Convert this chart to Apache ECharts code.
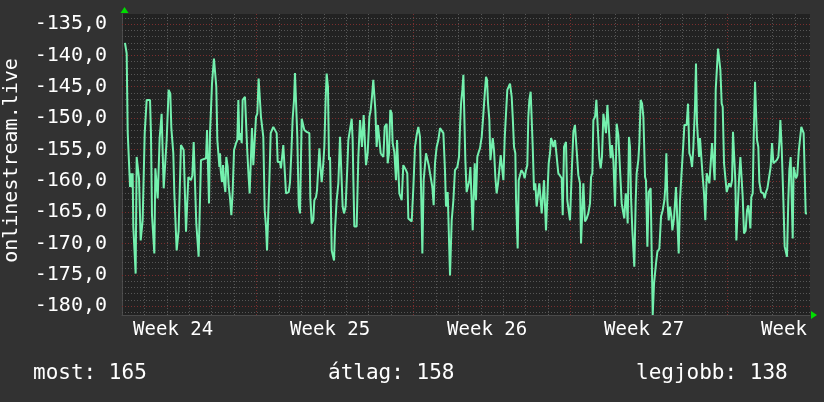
<!DOCTYPE html>
<html><head><meta charset="utf-8">
<script src="https://cdn.jsdelivr.net/npm/echarts@6/dist/echarts.min.js"></script>
<style>html,body{margin:0;padding:0;background:#323232}#c{width:824px;height:402px}</style>
</head><body><div id="c"></div>
<script>
// time in hours from left edge of the plot, values in the chart's unit
const hours = [3.2,5.0,6.1,7.8,8.6,9.3,10.3,11.4,12.1,13.6,14.6,15.7,16.8,18.2,19.3,20.0,21.4,22.1,23.2,24.3,25.3,26.4,30.0,31.0,32.1,33.5,34.6,35.7,37.1,38.2,39.2,40.3,41.4,42.4,43.5,44.6,46.7,47.8,48.9,49.9,51.7,52.8,53.9,54.9,56.0,57.4,58.5,59.9,60.6,62.1,63.1,64.6,66.0,67.4,68.5,69.9,71.0,72.8,73.8,75.3,76.7,78.1,79.5,80.6,82.0,83.5,84.5,89.9,91.0,92.4,93.1,94.2,95.2,96.3,98.4,99.9,100.9,102.0,103.1,104.2,104.9,105.6,107.0,108.1,109.2,110.6,111.6,113.1,114.1,115.6,117.0,118.4,119.9,120.9,122.0,123.4,124.5,125.6,127.0,128.1,129.1,130.6,131.6,133.4,134.1,135.5,136.6,138.0,139.1,140.5,142.3,143.4,144.8,146.2,147.7,148.7,150.2,151.2,152.7,154.1,155.2,156.6,157.7,159.1,160.5,161.9,163.7,165.5,166.6,169.1,170.1,171.6,172.6,174.4,175.5,176.9,178.4,179.8,181.2,182.6,184.1,185.1,186.6,187.6,189.1,190.5,191.5,192.3,194.0,195.1,197.6,199.4,200.5,201.5,203.0,204.7,205.8,207.6,208.7,210.1,211.2,212.6,213.7,214.7,215.4,216.5,217.9,219.0,220.4,221.5,222.6,224.4,226.9,227.9,229.7,231.5,233.3,235.1,236.1,237.6,239.3,241.1,242.2,244.0,245.8,246.8,247.6,248.6,251.1,252.9,254.7,255.8,256.8,257.5,258.6,260.0,261.1,262.9,264.7,266.1,267.5,268.9,270.0,271.1,272.5,273.9,275.4,276.8,279.7,281.1,283.2,284.3,285.7,287.1,288.6,289.6,291.4,293.2,294.3,295.7,296.8,299.3,301.0,302.8,303.9,305.3,306.4,310.0,311.8,313.5,315.3,317.1,318.9,320.0,321.4,322.8,324.2,325.3,326.7,328.2,329.6,330.7,332.1,333.5,334.9,336.7,338.5,340.3,342.1,343.9,345.6,346.7,348.5,349.6,351.0,352.8,354.6,356.3,358.8,360.6,361.7,362.8,364.2,365.3,366.3,367.4,368.8,370.3,371.7,372.8,374.2,375.3,376.3,377.4,378.8,380.2,381.7,383.1,384.9,386.7,387.7,389.5,390.6,391.7,393.1,394.2,395.6,396.7,398.1,399.5,400.9,402.4,403.8,405.2,406.6,408.1,409.5,410.9,412.3,413.8,415.2,417.0,418.1,419.5,420.9,421.6,423.4,424.5,425.9,427.3,429.5,430.9,432.3,433.7,434.8,435.9,437.3,438.4,439.5,440.9,442.3,443.7,445.5,446.6,448.0,449.1,450.2,451.6,452.6,453.7,455.2,456.6,458.0,459.1,460.5,461.6,463.4,465.1,466.9,468.7,470.5,471.6,473.0,475.1,476.5,478.0,479.4,481.2,483.0,484.7,486.5,488.3,490.1,491.2,492.6,493.7,494.4,495.4,497.2,499.0,500.8,501.9,503.3,504.4,506.2,507.6,509.7,510.8,512.2,513.6,515.1,516.5,517.9,519.4,521.5,522.9,524.3,525.8,527.6,529.3,531.1,532.9,534.7,536.5,537.5,539.0,540.0,541.1,542.5,543.6,544.7,546.1,548.2,549.7,550.7,552.5,553.6,555.0,556.5,557.9,559.7,560.7,562.2,563.6,565.7,566.8,567.9,569.3,571.4,572.9,575.0,576.8,578.6,580.4,581.4,582.5,583.6,585.0,586.4,587.9,588.9,590.7,592.8,594.6,595.7,597.1,598.2,599.6,600.7,601.8,604.2,605.7,607.1,608.5,610.0,611.4,613.2,614.2,615.3,616.4,617.5,618.5,620.0,621.4,622.8,624.2,625.7,627.1,628.5,630.3,631.4,632.8,634.2,635.3,636.7,637.8,639.2,640.3,641.7,642.8,644.2,645.6,647.1,648.5,649.6,651.3,652.8,653.8,654.9,656.3,657.4,659.2,660.2,661.7,663.1,664.2,665.6,667.4,668.8,670.2,671.3,672.4,673.4,674.9,675.9,677.4,678.4,679.5,680.9,682.0,683.8,685.2,686.3,687.7,689.1,690.6,692.7,694.1,695.6,697.0,698.8,700.6,702.3,703.4,704.5,705.9,707.7,709.1,710.5,711.6,713.0,714.1,715.5,716.6,717.7,718.7,720.2,721.2,722.6,724.1,725.5,726.9,728.0,729.4,730.5,731.6,733.0];
const values = [-138.0,-139.7,-152.2,-152.2,-161.0,-158.8,-161.0,-158.8,-167.3,-167.3,-174.8,-156.2,-156.2,-159.6,-159.6,-169.5,-169.5,-166.3,-166.3,-152.4,-152.4,-147.1,-147.1,-152.4,-165.5,-165.5,-171.6,-158.0,-158.3,-162.8,-162.8,-153.2,-153.2,-149.3,-149.3,-161.2,-161.2,-153.5,-153.5,-145.5,-146.1,-151.6,-151.6,-155.6,-162.0,-162.0,-171.1,-171.1,-167.9,-167.9,-154.3,-154.0,-155.1,-155.1,-168.1,-168.1,-159.4,-159.4,-159.9,-159.1,-153.8,-153.8,-166.8,-166.8,-172.1,-172.1,-156.7,-156.4,-151.9,-151.9,-163.6,-152.2,-148.7,-144.5,-140.5,-140.5,-145.0,-153.5,-155.6,-157.8,-155.6,-158.3,-160.2,-157.5,-160.2,-161.8,-156.2,-157.8,-160.7,-162.8,-165.5,-161.8,-155.1,-155.1,-154.0,-153.5,-147.1,-153.5,-152.4,-154.0,-147.1,-146.9,-146.6,-146.3,-155.4,-159.4,-162.0,-162.0,-151.6,-157.5,-157.5,-149.8,-149.3,-143.7,-143.7,-149.8,-149.8,-153.0,-164.7,-167.3,-171.1,-171.1,-159.9,-152.4,-152.4,-151.4,-151.4,-152.4,-157.0,-157.0,-158.0,-158.0,-154.3,-154.0,-162.0,-162.0,-161.8,-160.2,-155.6,-150.1,-147.1,-142.8,-142.8,-153.0,-163.9,-165.2,-165.2,-150.1,-150.1,-151.9,-152.2,-152.2,-152.4,-162.6,-166.8,-166.3,-163.1,-162.6,-161.5,-161.5,-154.8,-158.3,-160.2,-160.2,-157.2,-154.6,-147.1,-142.9,-145.0,-156.7,-156.2,-171.1,-172.7,-167.9,-163.1,-160.4,-153.0,-153.0,-164.1,-165.2,-164.1,-157.8,-153.5,-153.5,-150.1,-153.5,-159.9,-167.3,-167.3,-156.2,-150.3,-150.3,-154.6,-154.6,-149.5,-149.5,-157.5,-155.6,-149.8,-148.7,-146.6,-143.9,-143.9,-148.7,-154.6,-151.1,-151.1,-155.6,-156.2,-151.4,-150.9,-157.2,-155.6,-148.7,-149.3,-154.0,-155.4,-159.9,-153.5,-153.5,-162.0,-163.1,-157.5,-157.5,-158.3,-158.8,-166.0,-166.5,-161.0,-154.6,-152.7,-151.4,-153.0,-161.0,-171.6,-159.9,-159.9,-155.6,-155.6,-157.5,-158.8,-158.6,-161.0,-163.9,-157.2,-154.6,-153.5,-151.6,-151.6,-152.4,-158.3,-164.1,-161.8,-161.8,-175.1,-166.3,-163.1,-158.3,-157.8,-156.2,-151.4,-147.7,-145.5,-143.1,-143.4,-156.7,-161.8,-161.5,-159.9,-157.8,-157.8,-167.9,-167.9,-157.2,-163.1,-156.2,-155.4,-154.8,-153.0,-149.3,-147.1,-143.4,-143.9,-147.7,-150.3,-156.7,-156.7,-153.2,-155.1,-159.4,-162.0,-160.4,-160.2,-155.9,-157.8,-159.9,-153.2,-149.3,-145.5,-145.0,-144.5,-146.6,-149.8,-154.6,-155.6,-162.6,-170.8,-159.9,-159.9,-158.3,-158.8,-159.6,-158.3,-157.5,-149.8,-147.1,-145.8,-146.1,-154.6,-161.5,-160.4,-164.1,-164.4,-160.4,-160.4,-165.2,-165.2,-159.9,-160.2,-167.9,-167.9,-157.2,-155.6,-153.2,-153.8,-154.6,-153.5,-153.5,-158.8,-159.1,-159.6,-165.5,-154.6,-153.8,-163.1,-163.4,-166.3,-158.8,-152.2,-151.1,-151.1,-159.1,-160.4,-170.0,-170.0,-160.4,-160.4,-166.5,-166.0,-165.2,-163.6,-159.4,-158.8,-150.3,-149.8,-147.1,-146.8,-156.4,-158.0,-156.2,-149.3,-149.3,-152.4,-147.9,-147.9,-156.4,-154.3,-156.7,-164.1,-150.9,-152.7,-152.7,-163.6,-165.2,-166.0,-162.0,-163.1,-166.8,-153.0,-154.6,-162.6,-167.9,-173.7,-163.1,-158.8,-156.7,-154.0,-147.1,-147.7,-149.8,-159.4,-159.9,-170.5,-161.8,-161.2,-171.6,-181.4,-176.4,-173.2,-171.3,-170.8,-165.7,-164.7,-163.1,-161.0,-155.6,-163.1,-166.3,-164.1,-165.7,-167.9,-166.0,-161.0,-161.0,-171.6,-163.1,-160.2,-160.2,-154.0,-151.1,-151.1,-147.7,-155.6,-156.2,-157.8,-154.6,-147.9,-141.3,-150.9,-150.9,-156.2,-153.2,-153.2,-159.4,-162.0,-166.3,-158.8,-158.8,-160.4,-160.4,-154.0,-154.0,-159.9,-145.5,-145.3,-138.9,-138.9,-142.3,-147.7,-148.2,-157.2,-157.5,-161.8,-161.8,-160.4,-161.0,-159.9,-152.2,-152.4,-159.9,-169.5,-169.5,-159.9,-156.2,-156.2,-162.6,-168.4,-167.9,-164.7,-163.9,-165.5,-167.6,-162.6,-162.0,-153.5,-144.2,-144.4,-153.5,-154.6,-160.2,-161.8,-161.8,-162.0,-162.8,-161.8,-161.2,-161.5,-157.8,-154.0,-157.2,-157.5,-156.7,-156.2,-154.0,-150.3,-154.6,-163.1,-170.5,-170.8,-172.1,-163.1,-158.3,-156.2,-156.2,-169.2,-157.8,-157.8,-159.6,-159.1,-155.4,-155.1,-151.4,-151.3,-152.4,-152.7,-165.2,-165.2];
const weekLabels = ['Week 24', 'Week 25', 'Week 26', 'Week 27', 'Week'];
const weekLabelHours = [54.7, 222.7, 390.7, 558.7, 726.7];
const majorHours = [144, 312, 480, 648];
const yTickValues = [-180, -175, -170, -165, -160, -155, -150, -145, -140, -135];
const yTitle = 'onlinestream.live';
const legendTexts = ['most: 165', 'átlag: 158', 'legjobb: 138'];

const FONT = 'DejaVu Sans Mono';
const X_MAX = 736.2;
const Y_MIN = -181.4, Y_MAX = -133.4;
const MINOR = {color: '#565656', type: [1, 2], width: 1};
const MAJOR = {color: '#7a2e2e', type: [1, 2], width: 1};

// minor horizontal grid: every whole unit inside the plot range
const minorValues = [];
for (let v = Math.ceil(Y_MIN); v <= Math.floor(Y_MAX); v++) if (v % 5 !== 0) minorValues.push(v);

const chart = echarts.init(document.getElementById('c'), null, {renderer: 'canvas'});
chart.setOption({
  backgroundColor: '#323232',
  animation: false,
  grid: {left: 122, right: 14, top: 14, bottom: 87, show: true, backgroundColor: '#222222', borderWidth: 0, outerBoundsMode: 'none', containLabel: false},
  xAxis: {
    type: 'value', position: 'bottom', min: 0, max: X_MAX, interval: 24,
    axisLine: {show: true, lineStyle: {color: '#4a4a4a', width: 1}}, axisTick: {show: false},
    splitLine: {show: true, showMinLine: false, showMaxLine: false, lineStyle: MINOR},
    axisLabel: {
      show: true, hideOverlap: false, customValues: weekLabelHours,
      color: '#ffffff', fontFamily: FONT, fontSize: 19, margin: 6,
      formatter: function (v) {
        const i = weekLabelHours.findIndex(h => Math.abs(h - v) < 0.05);
        if (i < 0) return '';
        // the last label is cut at the right edge; keep it placed like a full "Week NN" label
        const full = 'Week 00'.length;
        return weekLabels[i] + ' '.repeat(Math.max(0, full - weekLabels[i].length));
      }
    }
  },
  yAxis: {
    type: 'value', position: 'left', min: Y_MIN, max: Y_MAX,
    name: yTitle, nameLocation: 'middle', nameRotate: 90, nameGap: 100,
    nameTextStyle: {color: '#ffffff', fontFamily: FONT, fontSize: 20, padding: [0, 0, 0, 8]},
    axisLine: {show: true, lineStyle: {color: '#4a4a4a', width: 1}}, axisTick: {show: false},
    splitLine: {show: false},
    axisLabel: {
      show: true, hideOverlap: false, customValues: yTickValues,
      color: '#ffffff', fontFamily: FONT, fontSize: 20, margin: 15,
      formatter: function (v) {
        return Number(v).toFixed(1).replace('.', ',');
      }
    }
  },
  series: [{
    type: 'line', data: [], silent: true, z: 1,
    markLine: {
      silent: true, symbol: 'none', z: 1, animation: false,
      label: {show: false}, emphasis: {disabled: true},
      lineStyle: MINOR,
      data: minorValues.map(v => ({yAxis: v}))
    }
  }, {
    type: 'line', data: [], silent: true, z: 2,
    markLine: {
      silent: true, symbol: 'none', z: 2, animation: false,
      label: {show: false}, emphasis: {disabled: true},
      lineStyle: MAJOR,
      data: majorHours.map(h => ({xAxis: h})).concat(yTickValues.map(v => ({yAxis: v})))
    }
  }, {
    type: 'line', z: 3,
    data: hours.map((h, i) => [h, values[i]]),
    showSymbol: false, symbol: 'none',
    lineStyle: {color: '#74f0ae', width: 2},
    itemStyle: {color: '#74f0ae'}
  }],
  graphic: [
    {type: 'polygon', shape: {points: [[120.5, 13], [128.5, 13], [124.5, 7]]}, style: {fill: '#00dd00'}},
    {type: 'polygon', shape: {points: [[811, 311], [811, 319], [817, 315]]}, style: {fill: '#00dd00'}},
    {type: 'text', left: 33, top: 363, style: {text: legendTexts[0], fill: '#ffffff', font: '21px "DejaVu Sans Mono"'}},
    {type: 'text', left: 328, top: 363, style: {text: legendTexts[1], fill: '#ffffff', font: '21px "DejaVu Sans Mono"'}},
    {type: 'text', left: 636, top: 363, style: {text: legendTexts[2], fill: '#ffffff', font: '21px "DejaVu Sans Mono"'}}
  ]
});
</script></body></html>
